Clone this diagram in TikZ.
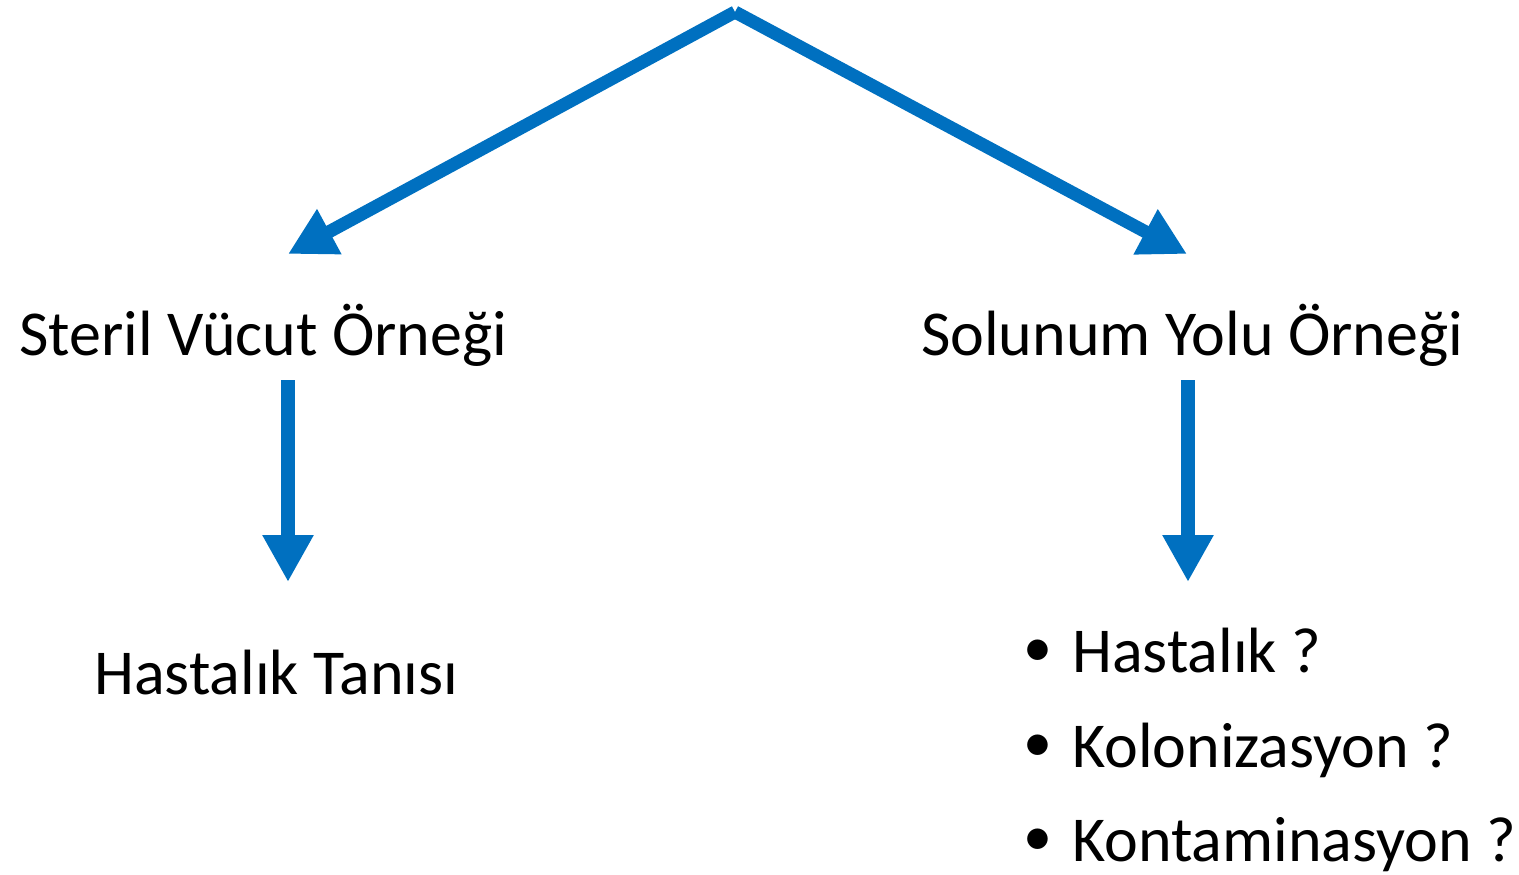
\documentclass[tikz,border=0pt]{standalone}
\usepackage{fontspec}
\setmainfont{Carlito}
\usetikzlibrary{arrows.meta}
\definecolor{arrowblue}{HTML}{0070C0}
\newcommand{\mybul}{\makebox[50pt][l]{\hspace{1pt}\raisebox{6pt}{\fontsize{58}{58}\selectfont •}}}
\begin{document}
\begin{tikzpicture}[x=1pt,y=-1pt,
  bigarrow/.style={draw=arrowblue,line width=13pt,-{Triangle[length=47pt,width=48pt]},arrowblue},
  lbl/.style={anchor=base west,inner sep=0pt,font=\fontsize{64}{70}\selectfont}]
\useasboundingbox (0,0) rectangle (1519,875);
\coordinate (apex) at (735,12);
\coordinate (ltip) at (288,254);
\coordinate (rtip) at (1187,254);
\node[lbl] (steril) at (19,355) {Steril Vücut Örneği};
\node[lbl] (solunum) at (921,355) {Solunum Yolu Örneği};
\node[lbl] (tani) at (94,694) {Hastalık Tanısı};
\node[lbl] (b1) at (1022,672) {\mybul Hastalık ?};
\node[lbl] (b2) at (1022,767) {\mybul Kolonizasyon ?};
\node[lbl] (b3) at (1022,861) {\mybul Kontaminasyon ?};
\coordinate (ls) at (288,380);
\coordinate (le) at (288,582);
\coordinate (rs) at (1188,380);
\coordinate (re) at (1188,582);
\draw[bigarrow] (apex) -- (ltip);
\draw[bigarrow] (apex) -- (rtip);
\draw[bigarrow,line width=14pt] (ls) -- (le);
\draw[bigarrow,line width=14pt] (rs) -- (re);
\end{tikzpicture}
\end{document}
